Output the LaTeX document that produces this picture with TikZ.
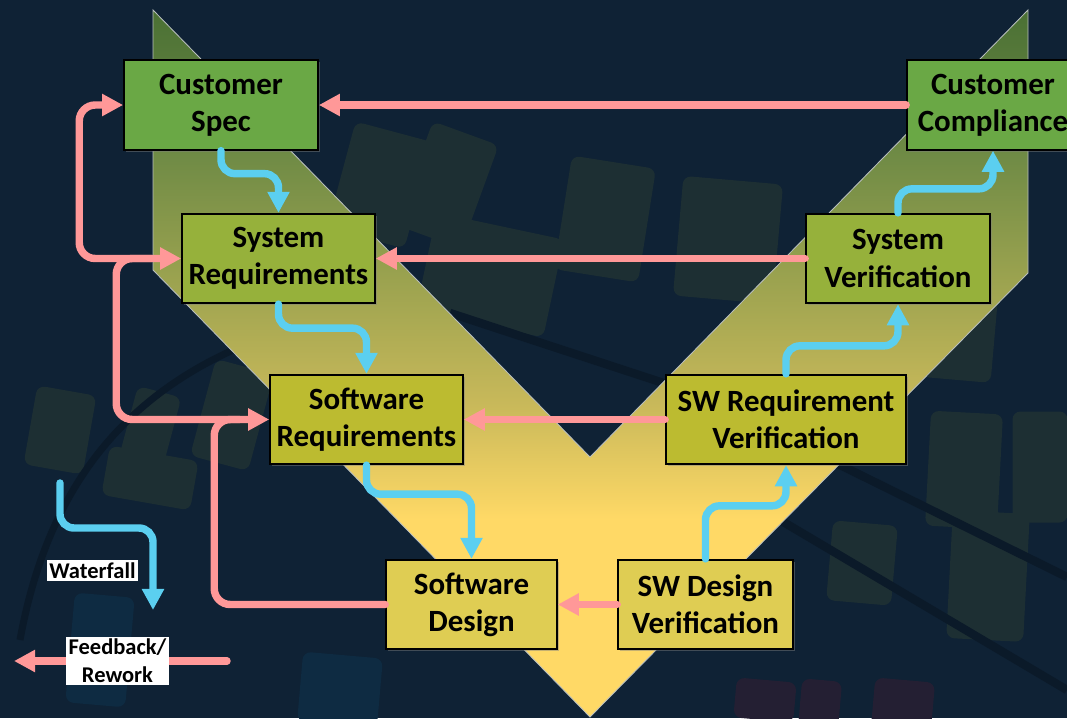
\documentclass[tikz,border=0pt]{standalone}
\usepackage{fontspec}
\setmainfont{Carlito}
\usetikzlibrary{arrows.meta,calc,shadows}

\definecolor{bgnavy}{HTML}{0F2235}
\definecolor{tilegray}{HTML}{1D2F33}
\definecolor{tileblue}{HTML}{0E2B42}
\definecolor{tilewine}{HTML}{241F33}
\definecolor{darkband}{HTML}{0B1A29}
\definecolor{vgreen}{HTML}{4A7034}
\definecolor{vmoss}{HTML}{6E8A45}
\definecolor{volive}{HTML}{96A04E}
\definecolor{vtan}{HTML}{C9B95A}
\definecolor{vyellow}{HTML}{FFD966}
\definecolor{vedge}{HTML}{B8BEBE}
\definecolor{custgreen}{HTML}{6AA845}
\definecolor{sysgreen}{HTML}{96B13B}
\definecolor{swolive}{HTML}{BCBB30}
\definecolor{desyellow}{HTML}{DFCD53}
\definecolor{wfblue}{HTML}{5BCFF0}
\definecolor{fbpink}{HTML}{FF9898}

\pgfdeclareverticalshading{vfade}{100bp}{color(0bp)=(vyellow); color(25bp)=(vyellow); color(39bp)=(vyellow); color(47bp)=(vtan); color(57bp)=(volive); color(65bp)=(vmoss); color(75bp)=(vgreen); color(100bp)=(vgreen)}

\begin{document}
\begin{tikzpicture}[
    x=0.025cm, y=-0.025cm,
    box/.style={draw=black, line width=1.2pt, rectangle, minimum height=2.24cm, align=center, text=black,
        font=\fontsize{22}{26.5}\selectfont\bfseries,
        drop shadow={shadow xshift=1.5pt, shadow yshift=-1.5pt, opacity=0.45}},
    wf/.style={-{Triangle[width=15pt,length=15pt]}, line width=5.3pt, color=wfblue, line cap=round, rounded corners=0.35cm},
    fb/.style={-{Triangle[width=15pt,length=15pt]}, line width=5.3pt, color=fbpink, line cap=round, rounded corners=0.4cm},
    legend/.style={fill=white, text=black, font=\fontsize{16}{20}\selectfont\bfseries, align=center, inner sep=1.5pt},
    tile/.style={rounded corners=0.2cm}
]
\useasboundingbox (0,0) rectangle (1067,718);

% Background
\fill[bgnavy] (0,0) rectangle (1067,718);
\foreach \cx/\cy/\w/\h/\a in {447/185/70/110/-20, 380/185/80/110/-15, 490/275/130/100/-12, 605/219/85/115/-9,
    728/240/100/120/-5, 60/430/60/80/-10, 150/428/45/75/-15, 232/415/60/100/-15, 150/478/90/50/-10,
    964/470/72/115/-3, 988/576/77/128/-3, 862/563/65/80/-5, 1040/467/55/111/0, 960/330/70/100/-5}
  \fill[tile, tilegray, rotate around={\a:(\cx,\cy)}] (\cx-\w/2,\cy-\h/2) rectangle (\cx+\w/2,\cy+\h/2);
\foreach \cx/\cy/\w/\h/\a in {100/650/60/110/-5, 340/690/80/70/-5}
  \fill[tile, tileblue, rotate around={\a:(\cx,\cy)}] (\cx-\w/2,\cy-\h/2) rectangle (\cx+\w/2,\cy+\h/2);
\foreach \cx/\cy/\w/\h/\a in {903/705/60/50/-5, 820/705/40/50/-5, 765/700/60/40/-5}
  \fill[tile, tilewine, rotate around={\a:(\cx,\cy)}] (\cx-\w/2,\cy-\h/2) rectangle (\cx+\w/2,\cy+\h/2);
\draw[darkband, line width=6pt] (830,460) -- (1067,577);
\draw[darkband, line width=6pt] (780,520) -- (1067,690);
\draw[darkband, line width=6pt] (450,313) -- (700,395);
\draw[darkband, line width=5pt] (20,640) .. controls (60,420) and (200,330) .. (420,300);

% The V
\shade[shading=vfade] (153,10) -- (153,270) -- (590,717) -- (1028,273) -- (1028,10) -- (590,457) -- cycle;
\draw[vedge, line width=0.6pt] (153,10) -- (153,270) -- (590,717) -- (1028,273) -- (1028,10) -- (590,457) -- cycle;

% Left arm
\node[box, fill=custgreen, minimum width=4.85cm] (custspec) at (221,105) {Customer\\Spec};
\node[box, fill=sysgreen, minimum width=4.82cm] (sysreq) at (278.5,258.5) {System\\Requirements};
\node[box, fill=swolive, minimum width=4.82cm] (swreq) at (366.5,419.5) {Software\\Requirements};
\node[box, fill=desyellow, minimum width=4.27cm] (swdes) at (471.5,604.5) {Software\\Design};

% Right arm
\node[box, fill=desyellow, minimum width=4.37cm] (swdv) at (705.5,604.5) {SW Design\\Verification};
\node[box, fill=swolive, minimum width=6cm] (swrv) at (786,419.5) {SW Requirement\\Verification};
\node[box, fill=sysgreen, minimum width=4.6cm] (sysver) at (898,258.5) {System\\Verification};
\node[box, fill=custgreen, minimum width=4.3cm] (custcomp) at (993,105) {Customer\\Compliance};

% Waterfall
\draw[wf] (custspec.south) -- ++(0,23) -| (sysreq.north);
\draw[wf] (sysreq.south) -- ++(0,24) -| (swreq.north);
\draw[wf] (swreq.south) -- ++(0,29) -| (swdes.north);
\draw[wf] (swdv.north) -- ++(0,-53) -| (swrv.south);
\draw[wf] (swrv.north) -- ++(0,-28) -| (sysver.south);
\draw[wf] (sysver.north) -- ++(0,-24) -| (custcomp.south);

% Feedback
\draw[fb] (custcomp.west) -- (custspec.east);
\draw[fb] (sysver.west) -- (sysreq.east);
\draw[fb] (swrv.west) -- (swreq.east);
\draw[fb] (swdv.west) -- (swdes.east);
\coordinate (fbone) at ($(sysreq.west)+(-102,0)$);
\coordinate (fbtwo) at ($(swreq.west)+(-153,0)$);
\coordinate (fbthree) at ($(swreq.west)+(-55,0)$);
\coordinate (fbjoina) at ($(swreq.west)+(-30,0)$);
\coordinate (fbjoinb) at ($(sysreq.west)+(-30,0)$);
\draw[fb] (swdes.west) -| (fbthree) -- (swreq.west);
\draw[fb] (fbjoina) -- (fbtwo) |- (sysreq.west);
\draw[fb] (fbjoinb) -- (fbone) |- (custspec.west);

% Legend
\coordinate (wfstart) at (60,483);
\coordinate (wfend) at (153,610);
\draw[wf] (wfstart) -- ++(0,45) -| (wfend);
\node[legend] (wflabel) at (92.5,570.5) {Waterfall};
\coordinate (fbstart) at (227,661);
\coordinate (fbend) at (14,661);
\draw[fb] (fbstart) -- (fbend);
\node[legend] (fblabel) at (117.5,661) {Feedback/\\Rework};

\end{tikzpicture}
\end{document}
